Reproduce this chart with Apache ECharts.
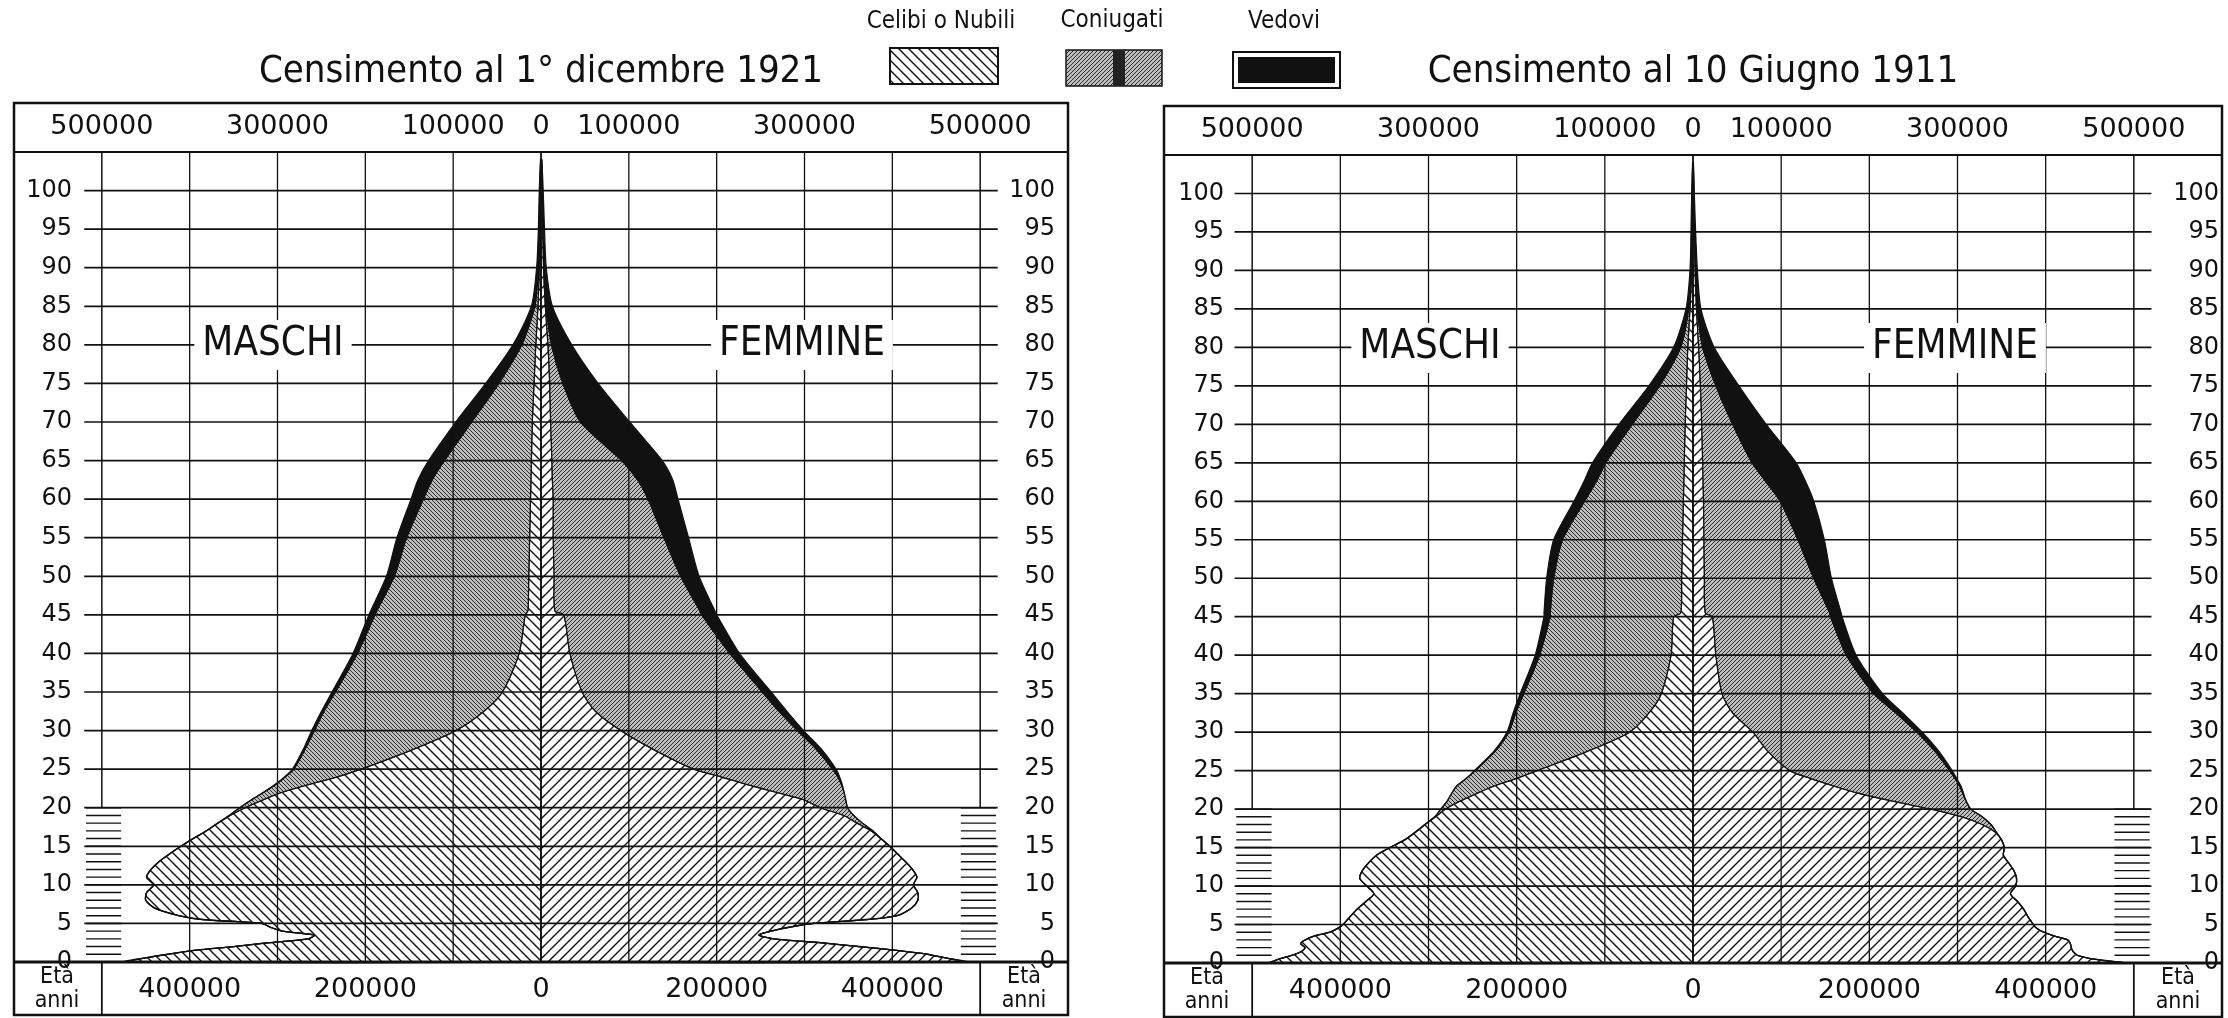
<!DOCTYPE html>
<html>
<head>
<meta charset="utf-8">
<title>Censimenti 1911 e 1921 - popolazione per età e stato civile</title>
<script src="https://cdn.jsdelivr.net/npm/echarts@6/dist/echarts.min.js"></script>
<style>
  html, body { margin: 0; background: #fff; }
  #chart { width: 2228px; height: 1018px; }
</style>
</head>
<body>
<div id="chart"></div>
<script>
// età (anni) alle quali sono lette le larghezze delle piramidi
const ages = [0, 0.5, 1, 1.5, 2, 2.5, 3, 3.5, 4, 4.5, 5, 5.5, 6,
  7, 8, 9, 10, 11, 12, 13, 14, 15, 16, 17, 18, 19, 20, 21, 22, 23, 24, 25,
  27.5, 30, 32.5, 35, 40, 45, 45.5, 50, 55, 60, 62.5, 65, 70, 75, 80, 85, 90, 95, 100, 104];

// migliaia di persone - censimento 1 dicembre 1921
const maschi1921Celibi = [475, 452, 425, 395, 350, 310, 265, 258, 295, 308, 318, 385, 412,
  440, 450, 449, 441, 449, 444, 435, 423, 410, 396, 381, 368, 354, 337, 317, 295, 265, 232, 205,
  147, 97, 65, 44, 25, 18, 15, 14, 13, 12, 11.5, 11, 10, 8, 6, 3.5, 2, 1.2, 0.8, 0.3];
const maschi1921Coniugati = [0, 0, 0, 0, 0, 0, 0, 0, 0, 0, 0, 0, 0,
  0, 0, 0, 0, 0, 0, 0, 0, 0, 0, 0, 0, 1, 6, 13, 20.5, 37, 59, 76.5,
  122, 161, 182, 190, 184, 171, 172, 153, 140, 122, 112.5, 99, 69, 40, 16, 3.5, 1, 0.6, 0.4, 0.1];
const maschi1921Vedovi = [0, 0, 0, 0, 0, 0, 0, 0, 0, 0, 0, 0, 0,
  0, 0, 0, 0, 0, 0, 0, 0, 0, 0, 0, 0, 0, 0, 0, 0.5, 1, 1, 1.5,
  2, 3, 3, 4, 5, 7, 7, 9, 11, 14, 16, 18, 18, 15, 10, 4, 2, 1.2, 0.8, 0.2];
const femmine1921Nubili = [485, 462, 440, 405, 362, 318, 265, 248, 262, 282, 310, 370, 405,
  422, 429, 429, 424, 428, 423, 415, 406, 397, 387, 376, 360, 345, 318, 300, 268, 235, 205, 174,
  129, 91, 62, 47, 33, 26, 16, 15, 14, 14, 13, 12.5, 11, 10, 8, 5, 3, 2.2, 1.5, 0.6];
const femmine1921Coniugate = [0, 0, 0, 0, 0, 0, 0, 0, 0, 0, 0, 0, 0,
  0, 0, 0, 0, 0, 0, 0, 0, 0, 0, 2, 6, 11, 31, 47, 77, 107, 133, 158,
  185, 201, 209, 205, 182, 157, 165, 144, 126, 108, 97, 79.5, 34, 15, 4, 1, 0.5, 0.3, 0.2, 0.1];
const femmine1921Vedove = [0, 0, 0, 0, 0, 0, 0, 0, 0, 0, 0, 0, 0,
  0, 0, 0, 0, 0, 0, 0, 0, 0, 0, 0, 0, 0, 0, 0, 0, 1, 2, 4,
  6, 7, 9, 10, 11, 17, 17, 21, 28, 34, 40, 46, 56, 40, 23, 7, 2.5, 1.5, 0.8, 0.3];

// migliaia di persone - censimento 10 giugno 1911
const maschi1911Celibi = [480, 470, 455, 444, 440, 445, 440, 430, 412, 403, 397, 393, 389,
  381, 371, 362, 370, 378, 375, 368, 359, 344, 327, 315, 304, 292, 281, 265, 246, 226, 200, 177,
  120, 72, 50, 36, 25, 22, 14, 13, 12, 11, 10.5, 10, 9, 7.5, 6, 3.5, 1.6, 1.1, 0.7, 0.25];
const maschi1911Coniugati = [0, 0, 0, 0, 0, 0, 0, 0, 0, 0, 0, 0, 0,
  0, 0, 0, 0, 0, 0, 0, 0, 0, 0, 0, 0, 1, 5, 14, 28, 42, 57, 70,
  104.5, 137, 151, 156, 149, 140, 148, 145, 136, 112, 99.5, 89, 60, 30.5, 8, 1.5, 0.4, 0.3, 0.3, 0.1];
const maschi1911Vedovi = [0, 0, 0, 0, 0, 0, 0, 0, 0, 0, 0, 0, 0,
  0, 0, 0, 0, 0, 0, 0, 0, 0, 0, 0, 0, 0, 0, 0, 0, 0, 0, 1,
  1.5, 2, 3, 4, 5, 7, 7, 8, 10, 12, 14, 15, 15, 12, 8, 3, 1.4, 0.9, 0.5, 0.15];
const femmine1911Nubili = [490, 455, 436, 431, 429, 428, 425, 410, 398, 390, 386, 383, 380,
  375, 368, 360, 366, 367, 364, 358, 352, 353, 350, 343, 328, 305, 270, 228, 190, 160, 133, 110,
  85, 68, 45, 33, 26, 22, 14, 13, 12.5, 12, 11.5, 11, 10, 8.5, 6.5, 4, 2.5, 1.5, 0.8, 0.3];
const femmine1911Coniugate = [0, 0, 0, 0, 0, 0, 0, 0, 0, 0, 0, 0, 0,
  0, 0, 0, 0, 0, 0, 0, 0, 0, 0, 1, 10, 23, 45, 82, 116, 142.5, 164, 181,
  189.5, 186, 185, 172, 148, 134, 141, 124, 106.5, 87, 71.5, 56, 35, 17.5, 4.5, 1, 0.5, 0.3, 0.2, 0.05];
const femmine1911Vedove = [0, 0, 0, 0, 0, 0, 0, 0, 0, 0, 0, 0, 0,
  0, 0, 0, 0, 0, 0, 0, 0, 0, 0, 0, 0, 0, 0, 0, 1, 1.5, 2, 3,
  4.5, 6, 8, 10, 11, 13, 13, 20, 30, 38, 45, 50, 38, 26, 13, 4, 2, 1.2, 0.5, 0.15];

// scale e righe
const topTicks = [-500000, -300000, -100000, 0, 100000, 300000, 500000];
const bottomTicks = [-400000, -200000, 0, 200000, 400000];
const verticalLines = [-500000, -400000, -300000, -200000, -100000, 0, 100000, 200000, 300000, 400000, 500000];
const ageLines = [5, 10, 15, 20, 25, 30, 35, 40, 45, 50, 55, 60, 65, 70, 75, 80, 85, 90, 95, 100];
const rulerAges = [1, 2, 3, 4, 5, 6, 7, 8, 9, 10, 11, 12, 13, 14, 15, 16, 17, 18, 19, 20];

const INK = '#111';
const FONT_NUM = '"DejaVu Sans", "Noto Sans", sans-serif';
const FONT_NARROW = '"Liberation Sans Narrow", "DejaVu Sans Condensed", "Roboto Condensed", "Liberation Sans", sans-serif';

// tratteggi
function hatch(size, slash, line, width, bg) {
  const c = document.createElement('canvas');
  c.width = c.height = size;
  const g = c.getContext('2d');
  g.fillStyle = bg;
  g.fillRect(0, 0, size, size);
  g.strokeStyle = line;
  g.lineWidth = width;
  g.beginPath();
  if (slash) {
    g.moveTo(0, size); g.lineTo(size, 0);
    g.moveTo(-size / 2, size / 2); g.lineTo(size / 2, -size / 2);
    g.moveTo(size / 2, size * 1.5); g.lineTo(size * 1.5, size / 2);
  } else {
    g.moveTo(0, 0); g.lineTo(size, size);
    g.moveTo(-size / 2, size / 2); g.lineTo(size / 2, size * 1.5);
    g.moveTo(size / 2, -size / 2); g.lineTo(size * 1.5, size / 2);
  }
  g.stroke();
  return { image: c, repeat: 'repeat' };
}

const pat = {
  singleM: hatch(10, false, INK, 1.4, '#fff'),
  singleF: hatch(10, true, INK, 1.4, '#fff'),
  marriedM: hatch(4, false, '#2e2e2e', 1, '#bcbcbc'),
  marriedF: hatch(4, true, '#2e2e2e', 1, '#bcbcbc')
};

const zero = ages.map(() => 0);
function cum(...arrs) {
  return ages.map((_, i) => arrs.reduce((s, a) => s + a[i], 0) * 1000);
}

function layer(gi, sign, inner, outer, fill, lw) {
  return {
    type: 'custom',
    xAxisIndex: gi * 2,
    yAxisIndex: gi * 2,
    z: 2,
    silent: true,
    data: [[0, 0]],
    renderItem: (params, api) => {
      const pts = [];
      ages.forEach((a, i) => pts.push(api.coord([sign * outer[i], a])));
      for (let i = ages.length - 1; i >= 0; i--) pts.push(api.coord([sign * inner[i], ages[i]]));
      return {
        type: 'polygon',
        shape: { points: pts, smooth: 0.25 },
        style: { fill: fill, stroke: INK, lineWidth: lw }
      };
    }
  };
}

function pyramid(gi, sign, s, m, w, pSingle, pMarried) {
  const l1 = cum(s), l2 = cum(s, m), l3 = cum(s, m, w);
  return [
    layer(gi, sign, zero, l1, pSingle, 1.4),
    layer(gi, sign, l1, l2, pMarried, 1.2),
    layer(gi, sign, l2, l3, INK, 1.2)
  ];
}

function gridLines(gi) {
  return {
    type: 'custom',
    xAxisIndex: gi * 2,
    yAxisIndex: gi * 2,
    z: 3,
    silent: true,
    data: [[0, 0]],
    renderItem: (params, api) => {
      const kids = [];
      const seg = (x1, y1, x2, y2, w) => {
        const a = api.coord([x1, y1]), b = api.coord([x2, y2]);
        kids.push({ type: 'line', shape: { x1: a[0], y1: a[1], x2: b[0], y2: b[1] },
          style: { stroke: INK, lineWidth: w } });
      };
      ageLines.forEach(a => seg(-520000, a, 520000, a, 1.7));
      verticalLines.forEach(v => {
        if (Math.abs(v) === 500000) seg(v, 20, v, 105, 1.5);
        else seg(v, 0, v, 105, v === 0 ? 1.8 : 1.3);
      });
      rulerAges.forEach(a => {
        seg(-518000, a, -478000, a, 1.4);
        seg(478000, a, 518000, a, 1.4);
      });
      seg(-600000, 0, 600000, 0, 3);
      seg(-500000, 0, -500000, -6.9, 1.8);
      seg(500000, 0, 500000, -6.9, 1.8);
      return { type: 'group', children: kids };
    }
  };
}

const panels = [
  { left: 14, right: 1068, top: 152, bottom: 962, frameTop: 103, frameBottom: 1015,
    title: 'Censimento al 1° dicembre 1921', maschiX: 273, femmineX: 802, labelY: 345,
    ageLeftMargin: 58, ageRightMargin: 13 },
  { left: 1164, right: 2222, top: 155, bottom: 963, frameTop: 106, frameBottom: 1017,
    title: 'Censimento al 10 Giugno 1911', maschiX: 1430, femmineX: 1955, labelY: 348,
    ageLeftMargin: 60, ageRightMargin: 3 }
];

const axisText = { color: INK, fontSize: 24, fontFamily: FONT_NUM };
const scaleText = { color: INK, fontSize: 27, fontFamily: FONT_NUM };
const xAxis = [], yAxis = [], grid = [];
panels.forEach((p, gi) => {
  grid.push({ left: p.left, top: p.top, width: p.right - p.left, height: p.bottom - p.top,
    outerBoundsMode: 'none', containLabel: false });
  const xBase = { type: 'value', gridIndex: gi, min: -600000, max: 600000, interval: 100000,
    splitLine: { show: false }, axisLine: { show: false }, axisTick: { show: false } };
  xAxis.push({ ...xBase, position: 'top',
    axisLabel: { ...scaleText, margin: 12, formatter: v => topTicks.includes(v) ? String(Math.abs(v)) : '' } });
  xAxis.push({ ...xBase, position: 'bottom',
    axisLabel: { ...scaleText, margin: 14, formatter: v => bottomTicks.includes(v) ? String(Math.abs(v)) : '' } });
  const yBase = { type: 'value', gridIndex: gi, min: 0, max: 105, interval: 5,
    splitLine: { show: false }, axisLine: { show: false }, axisTick: { show: false } };
  yAxis.push({ ...yBase, position: 'left',
    axisLabel: { ...axisText, inside: true, align: 'right', margin: p.ageLeftMargin,
      formatter: v => v <= 100 ? String(v) : '' } });
  yAxis.push({ ...yBase, position: 'right',
    axisLabel: { ...axisText, inside: true, align: 'right', margin: p.ageRightMargin,
      formatter: v => v <= 100 ? String(v) : '' } });
});

const series = [
  ...pyramid(0, -1, maschi1921Celibi, maschi1921Coniugati, maschi1921Vedovi, pat.singleM, pat.marriedM),
  ...pyramid(0, 1, femmine1921Nubili, femmine1921Coniugate, femmine1921Vedove, pat.singleF, pat.marriedF),
  ...pyramid(1, -1, maschi1911Celibi, maschi1911Coniugati, maschi1911Vedovi, pat.singleM, pat.marriedM),
  ...pyramid(1, 1, femmine1911Nubili, femmine1911Coniugate, femmine1911Vedove, pat.singleF, pat.marriedF),
  gridLines(0),
  gridLines(1)
];

function text(x, y, str, font, extra) {
  return { type: 'text', x: x, y: y, z: 10, silent: true,
    style: Object.assign({ text: str, font: font, fill: INK,
      align: 'center', verticalAlign: 'middle', textAlign: 'center', textVerticalAlign: 'middle' }, extra || {}) };
}

const graphic = [];
panels.forEach(p => {
  const cx = (p.left + p.right) / 2;
  graphic.push({ type: 'rect', z: 10, silent: true,
    shape: { x: p.left, y: p.frameTop, width: p.right - p.left, height: p.frameBottom - p.frameTop },
    style: { fill: 'none', stroke: INK, lineWidth: 2.5 } });
  graphic.push({ type: 'line', z: 10, silent: true,
    shape: { x1: p.left, y1: p.top, x2: p.right, y2: p.top },
    style: { stroke: INK, lineWidth: 2.2 } });
  graphic.push(text(cx, 72, p.title, 'normal 38px ' + FONT_NARROW));
  const boxed = { backgroundColor: '#fff', padding: [6, 8, 4, 8] };
  graphic.push(text(p.maschiX, p.labelY, 'MASCHI', 'normal 40px ' + FONT_NARROW, boxed));
  graphic.push(text(p.femmineX, p.labelY, 'FEMMINE', 'normal 40px ' + FONT_NARROW, boxed));
  [p.left + 43, p.right - 44].forEach(x => {
    graphic.push(text(x, p.bottom + 15, 'Età', 'normal 23px ' + FONT_NARROW));
    graphic.push(text(x, p.bottom + 39, 'anni', 'normal 23px ' + FONT_NARROW));
  });
});

// legenda
graphic.push(text(941, 22, 'Celibi o Nubili', 'normal 24px ' + FONT_NARROW));
graphic.push(text(1112, 21, 'Coniugati', 'normal 24px ' + FONT_NARROW));
graphic.push(text(1284, 22, 'Vedovi', 'normal 24px ' + FONT_NARROW));
graphic.push({ type: 'rect', z: 10, silent: true, shape: { x: 890, y: 48, width: 108, height: 36 },
  style: { fill: pat.singleM, stroke: INK, lineWidth: 2 } });
graphic.push({ type: 'rect', z: 10, silent: true, shape: { x: 1066, y: 50, width: 96, height: 36 },
  style: { fill: pat.marriedF, stroke: INK, lineWidth: 1.5 } });
graphic.push({ type: 'rect', z: 11, silent: true, shape: { x: 1113, y: 50, width: 12, height: 36 },
  style: { fill: '#222' } });
graphic.push({ type: 'rect', z: 10, silent: true, shape: { x: 1233, y: 52, width: 107, height: 36 },
  style: { fill: 'none', stroke: INK, lineWidth: 2 } });
graphic.push({ type: 'rect', z: 10, silent: true, shape: { x: 1238, y: 57, width: 97, height: 26 },
  style: { fill: INK } });

const chart = echarts.init(document.getElementById('chart'));
chart.setOption({
  animation: false,
  backgroundColor: '#fff',
  grid: grid,
  xAxis: xAxis,
  yAxis: yAxis,
  series: series,
  graphic: graphic
});
</script>
</body>
</html>
